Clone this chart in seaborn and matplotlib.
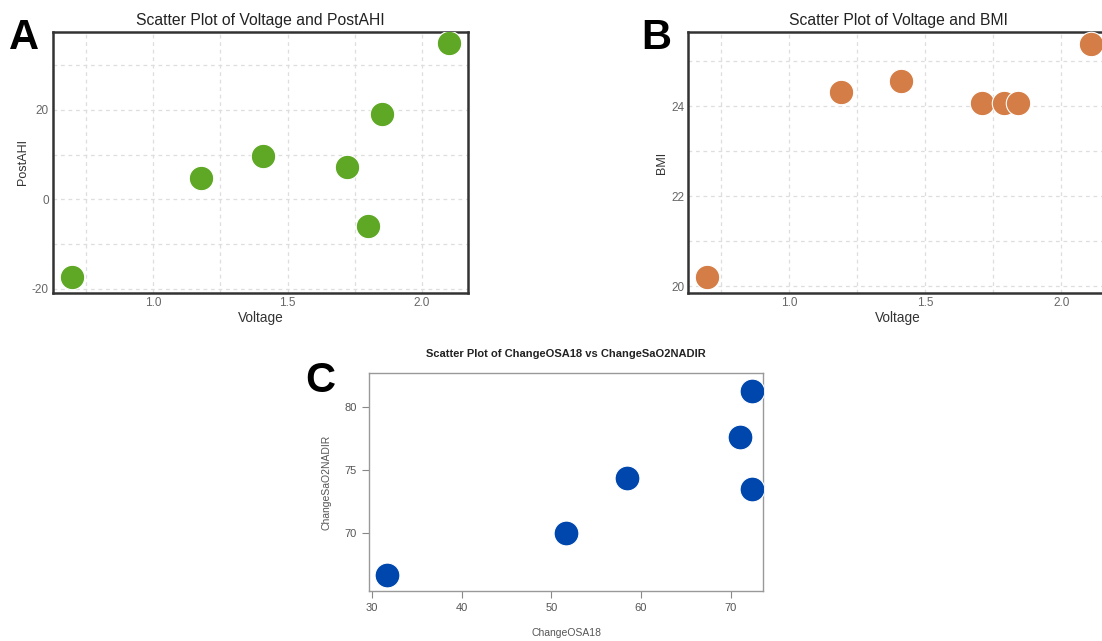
import matplotlib
matplotlib.use("Agg")
import matplotlib.pyplot as plt
from matplotlib.ticker import MultipleLocator
import seaborn as sns
import pandas as pd

# Data
voltage = [0.70, 1.18, 1.41, 1.72, 1.80, 1.85, 2.10]
post_ahi = [-17.4, 4.7, 9.8, 7.2, -6.0, 19.0, 34.9]

voltage_b = [0.70, 1.19, 1.41, 1.71, 1.79, 1.84, 2.11]
bmi = [20.2, 24.32, 24.57, 24.07, 24.07, 24.07, 25.39]

change_osa18 = [31.7, 51.6, 58.4, 71.1, 72.4, 72.4]
change_sao2 = [66.7, 70.0, 74.4, 77.6, 81.3, 73.5]

df_a = pd.DataFrame({"Voltage": voltage, "PostAHI": post_ahi})
df_b = pd.DataFrame({"Voltage": voltage_b, "BMI": bmi})
df_c = pd.DataFrame({"ChangeOSA18": change_osa18, "ChangeSaO2NADIR": change_sao2})

sns.set_theme(style="white")
plt.rcParams["font.family"] = ["Liberation Sans", "DejaVu Sans"]
plt.rcParams["axes.unicode_minus"] = False

fig = plt.figure(figsize=(11.02, 6.41), dpi=100)

ax_a = fig.add_axes([0.0481, 0.5429, 0.3766, 0.4072])
ax_b = fig.add_axes([0.6246, 0.5429, 0.3807, 0.4072])
ax_c = fig.add_axes([0.3351, 0.0785, 0.3575, 0.3391])


def gg_style(ax, title, xlabel, ylabel):
    ax.set_title(title, fontsize=11.3, color="#222222", pad=5)
    ax.set_xlabel(xlabel, fontsize=9.8, color="#333333", labelpad=1)
    ax.set_ylabel(ylabel, fontsize=9, color="#333333", labelpad=2)
    ax.grid(True, which="both", linestyle=(0, (3, 3)), color="#dedede", linewidth=0.9)
    ax.set_axisbelow(True)
    ax.tick_params(axis="both", which="both", length=0, labelsize=8.5, labelcolor="#666666", pad=3)
    for sp in ax.spines.values():
        sp.set_visible(True)
        sp.set_color("#333333")
        sp.set_linewidth(1.8)


# Panel A
sns.scatterplot(data=df_a, x="Voltage", y="PostAHI", ax=ax_a, color="#5fa825",
                s=310, edgecolor="white", linewidth=0.8, zorder=3)
ax_a.set_xlim(0.628, 2.171)
ax_a.set_ylim(-20.9, 37.4)
ax_a.xaxis.set_major_locator(MultipleLocator(0.5))
ax_a.xaxis.set_minor_locator(MultipleLocator(0.25))
ax_a.yaxis.set_major_locator(MultipleLocator(20))
ax_a.yaxis.set_minor_locator(MultipleLocator(10))
gg_style(ax_a, "Scatter Plot of Voltage and PostAHI", "Voltage", "PostAHI")

# Panel B
sns.scatterplot(data=df_b, x="Voltage", y="BMI", ax=ax_b, color="#d57d46",
                s=310, edgecolor="white", linewidth=0.8, zorder=3, clip_on=False)
ax_b.set_xlim(0.631, 2.171)
ax_b.set_ylim(19.85, 25.65)
ax_b.xaxis.set_major_locator(MultipleLocator(0.5))
ax_b.xaxis.set_minor_locator(MultipleLocator(0.25))
ax_b.yaxis.set_major_locator(MultipleLocator(2))
ax_b.yaxis.set_minor_locator(MultipleLocator(1))
gg_style(ax_b, "Scatter Plot of Voltage and BMI", "Voltage", "BMI")

# Panel C (base-graphics look)
sns.scatterplot(data=df_c, x="ChangeOSA18", y="ChangeSaO2NADIR", ax=ax_c, color="#0047ad",
                s=320, edgecolor="white", linewidth=0.8, zorder=3)
ax_c.set_xlim(29.67, 73.64)
ax_c.set_ylim(65.42, 82.67)
ax_c.set_xticks([30, 40, 50, 60, 70])
ax_c.set_yticks([70, 75, 80])
ax_c.grid(False)
ax_c.set_title("Scatter Plot of ChangeOSA18 vs ChangeSaO2NADIR", fontsize=8,
               fontweight="bold", color="#222222", pad=12)
ax_c.set_xlabel("ChangeOSA18", fontsize=7.5, color="#555555", labelpad=11)
ax_c.set_ylabel("ChangeSaO2NADIR", fontsize=7.5, color="#555555", labelpad=9)
ax_c.tick_params(axis="both", direction="out", length=5, width=0.8, color="#888888",
                 labelsize=8, labelcolor="#555555", pad=4, bottom=True, left=True)
for sp in ax_c.spines.values():
    sp.set_color("#999999")
    sp.set_linewidth(1.0)

# Panel letters
fig.text(0.008, 0.923, "A", fontsize=30, fontweight="bold", color="black", va="baseline")
fig.text(0.582, 0.923, "B", fontsize=30, fontweight="bold", color="black", va="baseline")
fig.text(0.277, 0.389, "C", fontsize=30, fontweight="bold", color="black", va="baseline")

fig.savefig("out.png", dpi=100)
